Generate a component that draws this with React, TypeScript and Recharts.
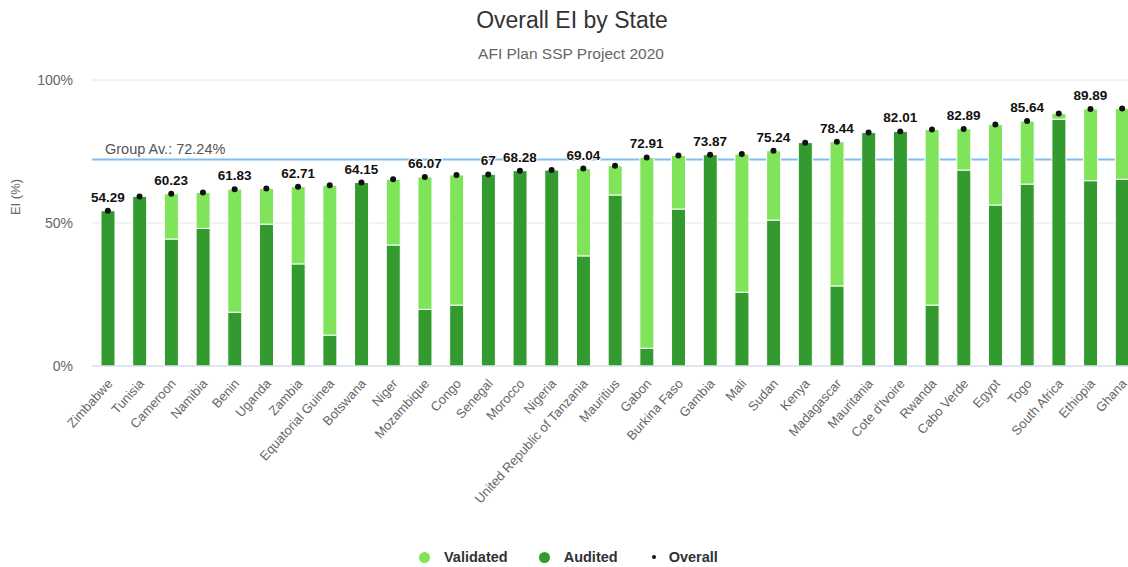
import React from 'react';
import {
  ComposedChart,
  Bar,
  Line,
  XAxis,
  YAxis,
  CartesianGrid,
  ReferenceLine,
  LabelList,
} from 'recharts';

const states = [
  'Zimbabwe', 'Tunisia', 'Cameroon', 'Namibia', 'Benin', 'Uganda', 'Zambia',
  'Equatorial Guinea', 'Botswana', 'Niger', 'Mozambique', 'Congo', 'Senegal',
  'Morocco', 'Nigeria', 'United Republic of Tanzania', 'Mauritius', 'Gabon',
  'Burkina Faso', 'Gambia', 'Mali', 'Sudan', 'Kenya', 'Madagascar', 'Mauritania',
  "Cote d'Ivoire", 'Rwanda', 'Cabo Verde', 'Egypt', 'Togo', 'South Africa',
  'Ethiopia', 'Ghana',
];

// overall EI per state (%)
const overall = [
  54.29, 59.3, 60.23, 60.7, 61.83, 62.1, 62.71, 63.2, 64.15, 65.3, 66.07, 66.8,
  67, 68.28, 68.5, 69.04, 70.0, 72.91, 73.6, 73.87, 74.1, 75.24, 78.1, 78.44,
  81.6, 82.01, 82.7, 82.89, 84.4, 85.64, 88.3, 89.89, 90.0,
];

// audited part (%), the rest of the bar is validated
const audited = [
  54.29, 59.3, 44.4, 48.1, 18.8, 49.6, 35.7, 10.8, 64.15, 42.3, 19.8, 21.3,
  67, 68.28, 68.5, 38.5, 59.8, 6.2, 54.9, 73.87, 25.8, 51.0, 78.1, 28.0,
  81.6, 82.01, 21.3, 68.5, 56.3, 63.6, 86.3, 64.8, 65.3,
];

// states whose overall value is printed above the dot
const labelled = [0, 2, 4, 6, 8, 10, 12, 13, 15, 17, 19, 21, 23, 25, 27, 29, 31];

const groupAverage = 72.24;
const yTicks = [0, 50, 100];

const data = states.map((name, i) => ({
  name,
  audited: audited[i],
  validated: Math.round((overall[i] - audited[i]) * 100) / 100,
  overall: overall[i],
  label: labelled.includes(i) ? String(overall[i]) : null,
}));

const FONT = "'Liberation Sans', Arial, Helvetica, sans-serif";
const DARK = '#339a2f';
const LIGHT = '#7fe45a';

const StateTick = (props: any) => {
  const { x, y, payload } = props;
  return (
    <g transform={`translate(${x + 2},${y + 15})`}>
      <text
        textAnchor="end"
        transform="rotate(-48)"
        dy="0.35em"
        fontSize={13}
        fill="#666"
        fontFamily={FONT}
      >
        {payload.value}
      </text>
    </g>
  );
};

const PercentTick = (props: any) => {
  const { x, y, payload } = props;
  return (
    <text x={x} y={y} dy="0.35em" textAnchor="end" fontSize={14} fill="#666" fontFamily={FONT}>
      {payload.value}%
    </text>
  );
};

const OverallLabel = (props: any) => {
  const { x, y, value } = props;
  if (value == null || value === '') return null;
  return (
    <text
      x={x}
      y={y - 9}
      textAnchor="middle"
      fontSize={13.5}
      fontWeight="bold"
      fill="#111"
      stroke="#fff"
      strokeWidth={2}
      paintOrder="stroke"
      fontFamily={FONT}
    >
      {value}
    </text>
  );
};

const legendItems = [
  { name: 'Validated', color: LIGHT, size: 11 },
  { name: 'Audited', color: DARK, size: 11 },
  { name: 'Overall', color: '#111', size: 4 },
];

export default function App() {
  return (
    <div
      style={{
        position: 'absolute',
        left: 0,
        top: 0,
        width: 1128,
        height: 567,
        overflow: 'hidden',
        background: '#fff',
        fontFamily: FONT,
      }}
    >
      <div
        style={{
          position: 'absolute',
          top: 6,
          left: 0,
          width: 1144,
          textAlign: 'center',
          fontSize: 23,
          lineHeight: '28px',
          color: '#333',
        }}
      >
        Overall EI by State
      </div>
      <div
        style={{
          position: 'absolute',
          top: 44,
          left: 0,
          width: 1142,
          textAlign: 'center',
          fontSize: 15.5,
          lineHeight: '20px',
          color: '#666',
        }}
      >
        AFI Plan SSP Project 2020
      </div>

      <div style={{ position: 'absolute', left: 0, top: 0 }}>
        <ComposedChart
          width={1138}
          height={567}
          data={data}
          margin={{ top: 80, right: 0, bottom: 0, left: 0 }}
          barCategoryGap={0}
        >
          <CartesianGrid vertical={false} stroke="#e6e6e6" />
          {/* group average line, drawn as a grid line so it stays behind the bars */}
          <CartesianGrid
            vertical={false}
            horizontalValues={[groupAverage]}
            stroke="#80bdf0"
            strokeWidth={2}
          />
          <XAxis
            dataKey="name"
            interval={0}
            height={201}
            tick={<StateTick />}
            tickLine={false}
            tickSize={0}
            tickMargin={0}
            axisLine={{ stroke: '#ccd6eb' }}
          />
          <YAxis
            width={92}
            domain={[0, 100]}
            ticks={yTicks}
            axisLine={false}
            tickLine={false}
            tickSize={0}
            tickMargin={19}
            tick={<PercentTick />}
            label={{
              content: () => (
                <text
                  x={15}
                  y={197}
                  transform="rotate(-90, 15, 197)"
                  textAnchor="middle"
                  dominantBaseline="central"
                  fontSize={13}
                  fill="#666"
                  fontFamily={FONT}
                >
                  EI (%)
                </text>
              ),
            }}
          />
          <ReferenceLine
            y={groupAverage}
            stroke="none"
            label={{
              content: (p: any) => (
                <text
                  x={p.viewBox.x + 13}
                  y={p.viewBox.y - 5}
                  fontSize={14.5}
                  fill="#555"
                  fontFamily={FONT}
                >
                  Group Av.: {groupAverage}%
                </text>
              ),
            }}
          />
          <Bar
            dataKey="audited"
            stackId="ei"
            fill={DARK}
            barSize={14}
            stroke="#fff"
            strokeWidth={1}
            isAnimationActive={false}
          />
          <Bar
            dataKey="validated"
            stackId="ei"
            fill={LIGHT}
            barSize={14}
            stroke="#fff"
            strokeWidth={1}
            isAnimationActive={false}
          />
          <Line
            dataKey="overall"
            stroke="none"
            dot={{ r: 3, fill: '#111', stroke: 'none' }}
            activeDot={false}
            isAnimationActive={false}
          >
            <LabelList dataKey="label" content={<OverallLabel />} />
          </Line>
        </ComposedChart>
      </div>

      <div
        style={{
          position: 'absolute',
          left: 419,
          top: 547,
          display: 'flex',
          alignItems: 'center',
          fontSize: 14.5,
          fontWeight: 'bold',
          color: '#333',
          lineHeight: '20px',
        }}
      >
        {legendItems.map((item) => (
          <div key={item.name} style={{ display: 'flex', alignItems: 'center', marginRight: 31 }}>
            <div
              style={{
                width: 11,
                height: 11,
                marginRight: item.size < 11 ? 9 : 14,
                display: 'flex',
                alignItems: 'center',
                justifyContent: 'center',
              }}
            >
              <span
                style={{
                  display: 'block',
                  width: item.size,
                  height: item.size,
                  borderRadius: '50%',
                  background: item.color,
                }}
              />
            </div>
            <span>{item.name}</span>
          </div>
        ))}
      </div>
    </div>
  );
}
